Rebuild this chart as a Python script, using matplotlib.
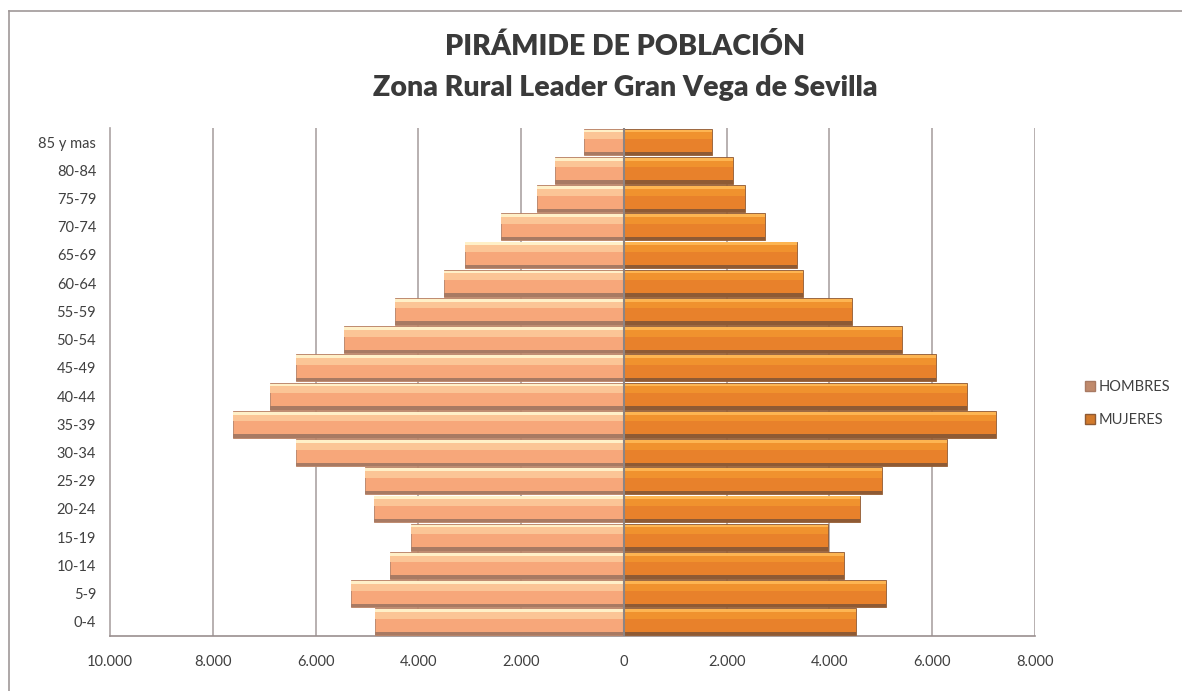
import matplotlib.pyplot as plt
from matplotlib.lines import Line2D
from matplotlib.patches import Patch
import numpy as np

# Datos
grupos = ["0-4", "5-9", "10-14", "15-19", "20-24", "25-29", "30-34", "35-39",
          "40-44", "45-49", "50-54", "55-59", "60-64", "65-69", "70-74",
          "75-79", "80-84", "85 y mas"]
hombres = [4843, 5311, 4551, 4134, 4863, 5038, 6382, 7609, 6888, 6382,
           5447, 4454, 3499, 3083, 2382, 1688, 1338, 773]
mujeres = [4512, 5096, 4278, 3973, 4590, 5018, 6284, 7238, 6674, 6070,
           5408, 4434, 3480, 3363, 2740, 2350, 2117, 1708]
ticks_x = [-10000, -8000, -6000, -4000, -2000, 0, 2000, 4000, 6000, 8000]

plt.rcParams['font.family'] = ['Lato', 'DejaVu Sans']

fig = plt.figure(figsize=(11.82, 6.91), dpi=100)
ax = fig.add_axes([0.0931, 0.0796, 0.7825, 0.7352])

y = np.arange(len(grupos))
h = 0.95
hom = -np.array(hombres)
muj = np.array(mujeres)

# barras con un efecto de bisel sencillo
ax.barh(y, hom, height=h, color='#F7A77A', edgecolor='#B58064', linewidth=0.6, zorder=3)
ax.barh(y + h / 2 - 0.2, hom, height=0.34, color='#FBC596', zorder=3.1)
ax.barh(y + h / 2 - 0.08, hom, height=0.1, color='#FFF0C8', zorder=3.2)
ax.barh(y - h / 2 + 0.06, hom, height=0.12, color='#A87A63', zorder=3.2)

ax.barh(y, muj, height=h, color='#E8812B', edgecolor='#8E5A34', linewidth=0.6, zorder=3)
ax.barh(y + h / 2 - 0.2, muj, height=0.34, color='#F0922E', zorder=3.1)
ax.barh(y + h / 2 - 0.08, muj, height=0.1, color='#FDB552', zorder=3.2)
ax.barh(y - h / 2 + 0.06, muj, height=0.12, color='#8E5A34', zorder=3.2)

ax.set_xlim(-10000, 8000)
ax.set_ylim(-0.5, len(grupos) - 0.5)
ax.set_xticks(ticks_x)
ax.set_xticklabels([f"{abs(t):,}".replace(",", ".") for t in ticks_x])
ax.set_yticks(y)
ax.set_yticklabels(grupos)
ax.tick_params(axis='both', length=0, labelsize=10.5, colors='#404040')
ax.tick_params(axis='x', pad=14)
ax.tick_params(axis='y', pad=10)

for t in ticks_x[1:]:
    ax.axvline(t, color='#ABA3A3', linewidth=1.2, zorder=1)
ax.axvline(0, color='#8C8484', linewidth=1.5, zorder=4)

for lado in ['top', 'right']:
    ax.spines[lado].set_visible(False)
ax.spines['left'].set_color('#ABA3A3')
ax.spines['left'].set_linewidth(1.2)
ax.spines['bottom'].set_color('#998F8F')
ax.spines['bottom'].set_linewidth(1.2)

fig.text(0.529, 0.932, "PIRÁMIDE DE POBLACIÓN", ha='center', va='center',
         fontsize=20.5, fontweight='heavy', color='#3A3A3A')
fig.text(0.529, 0.872, "Zona Rural Leader Gran Vega de Sevilla", ha='center',
         va='center', fontsize=20.5, fontweight='heavy', color='#3A3A3A')

leg = fig.legend(handles=[Patch(facecolor='#C08A6C', edgecolor='#A87A63', label='HOMBRES'),
                          Patch(facecolor='#D27A2C', edgecolor='#8E5A34', label='MUJERES')],
                 loc='center left', bbox_to_anchor=(0.907, 0.416), frameon=False,
                 fontsize=10.5, handlelength=0.7, handleheight=0.7, handletextpad=0.2,
                 labelspacing=1.3)
for txt in leg.get_texts():
    txt.set_color('#404040')

# borde del grafico
fig.add_artist(Line2D([9 / 1182, 9 / 1182], [0, 1 - 11 / 691], color='#A09898', linewidth=1.2))
fig.add_artist(Line2D([9 / 1182, 1], [1 - 11 / 691, 1 - 11 / 691], color='#A09898', linewidth=1.2))

fig.savefig("out.png", dpi=100)
